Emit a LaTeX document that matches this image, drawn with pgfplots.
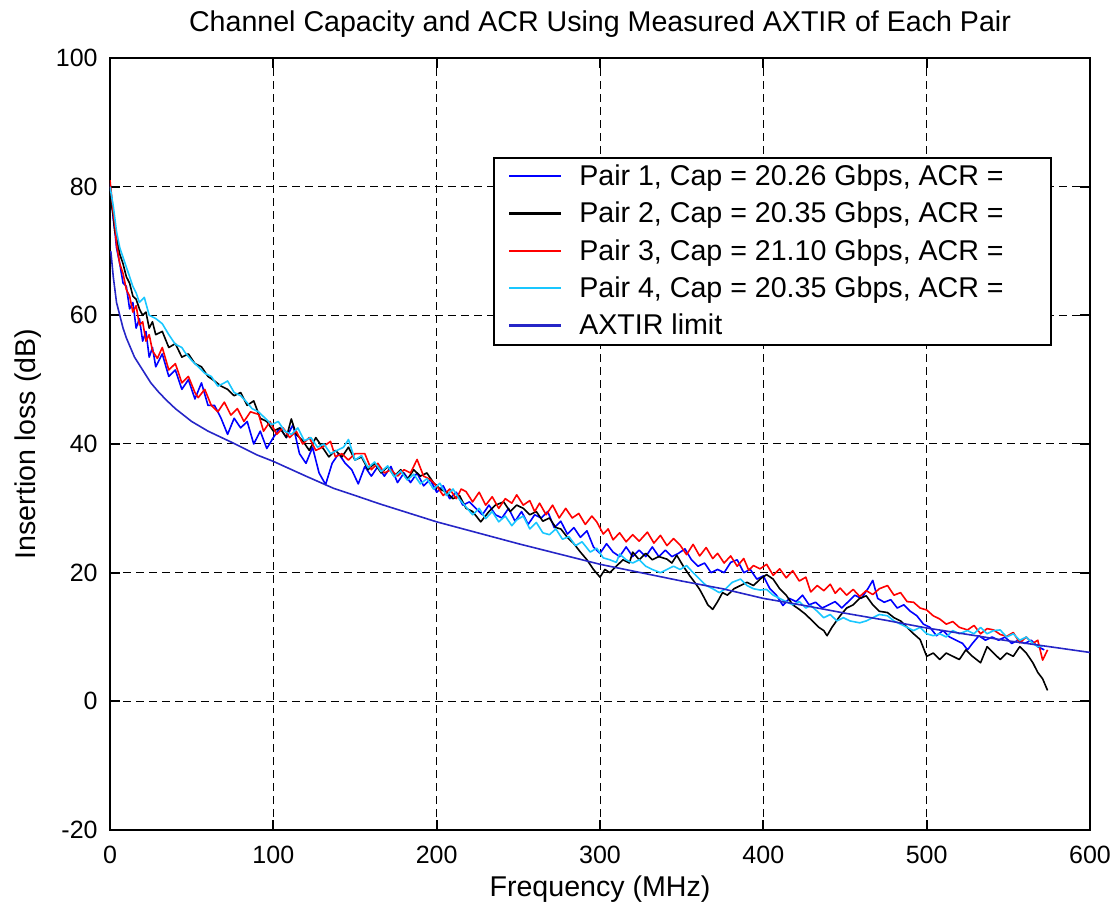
\documentclass[border=0pt]{standalone}
\usepackage{pgfplots}
\pgfplotsset{compat=1.18}
\usepackage{fontspec}
\setmainfont{Liberation Sans}
\definecolor{pairone}{rgb}{0,0,1}
\definecolor{pairtwo}{rgb}{0,0,0}
\definecolor{pairthree}{rgb}{1,0,0}
\definecolor{pairfour}{rgb}{0.1,0.78,1}
\definecolor{limitblue}{rgb}{0.15,0.15,0.78}
\begin{document}
\begin{tikzpicture}
\begin{axis}[
  width=490pt, height=386pt, scale only axis,
  xmin=0, xmax=600, ymin=-20, ymax=100,
  xtick={0,100,...,600}, ytick={-20,0,...,100},
  grid=major,
  major grid style={black, line width=0.5pt, dash pattern=on 4pt off 2.5pt},
  axis line style={line width=0.85pt},
  tick style={black, line width=0.85pt}, major tick length=5pt,
  tick align=inside,
  /pgf/number format/assume math mode=true,
  tick label style={font=\fontsize{12.5}{14}\selectfont},
  xticklabel style={anchor=base, yshift=-16.5pt},
  yticklabel style={anchor=east, inner sep=0pt, xshift=-6pt},
  every axis title/.style={at={(0.5,1.0337)}, anchor=base,
    font=\fontsize{14.3}{16}\selectfont},
  every axis x label/.style={at={(rel axis cs:0.5,-0.0855)}, anchor=base,
    font=\fontsize{14.3}{16}\selectfont},
  every axis y label/.style={at={(rel axis cs:-0.0832,0.5)}, rotate=90,
    anchor=center, font=\fontsize{14.3}{16}\selectfont},
  title={Channel Capacity and ACR Using Measured AXTIR of Each Pair},
  xlabel={Frequency (MHz)},
  ylabel={Insertion loss (dB)},
  legend cell align=left,
  legend style={at={(axis cs:234.5,84.6)}, anchor=north west,
    draw=black, line width=0.85pt, font=\fontsize{14.3}{16}\selectfont,
    nodes={inner sep=1.5pt}, row sep=3.8pt, column sep=7pt,
    inner xsep=7pt, inner ysep=2pt},
  legend image code/.code={\draw[#1, line width=1.2pt] (0pt,0.3pt) -- (26pt,0.3pt);},
  every axis plot/.append style={line width=0.8pt, line join=round},
]
% Pair 1
\addplot[color=pairone] coordinates {
(0,80.5)(1,78)(2,75)(3,73)(4,70.5)(6,68)(8,65)(10,64.5)(12,61)(14,62)(16,58)(18,59.5)
(20,56)(22,57.5)(24,53.5)(26,55)(28,52)(32,54)(36,50.5)(40,51.5)(44,48.5)(48,50)
(52,47)(56,49.5)(60,46)(64,46)(68,44)(72,41.5)(76,44)(80,42.5)(84,43.5)(88,40)
(92,42)(96,39.3)(100,41)(104,42.5)(108,41)(112,43)(116,38.5)(120,37)(124,39.5)
(128,35.5)(132,33.7)(136,37)(140,38.5)(144,37)(148,36)(152,33.8)(156,36.5)(160,35)
(164,36.5)(168,35)(172,36.5)(176,34)(180,35.5)(184,34)(188,35.5)(192,33.5)(196,34.5)
(200,32.5)(204,33.5)(208,31.5)(212,32.5)(216,30.5)(220,31)(224,30)(228,29)(232,30.5)
(236,29)(240,28.5)(244,30)(248,28)(252,29.5)(256,27.5)(260,29)(264,28.5)(268,29.5)
(272,27)(276,28)(280,26)(284,27)(288,25.5)(292,26.5)(296,24)(300,23)(304,24.5)
(308,23.2)(312,22.5)(316,24)(320,22.5)(324,23.5)(328,22.5)(332,24)(336,22.5)(340,23.5)
(344,22.5)(348,23)(352,23.7)(356,22)(360,21)(364,21.5)(368,20)(372,20.5)(376,20)
(380,21.6)(384,22)(388,20)(392,20.5)(396,19)(400,19.5)(404,17.5)(408,16.5)(412,14.9)
(416,16)(420,15.5)(424,16.5)(428,15)(432,15.4)(436,14.5)(440,15)(444,15.5)(448,14.5)
(452,15.5)(456,16.5)(460,16)(464,17.5)(467,18.8)(470,16)(474,15.4)(478,15.8)(482,14.5)
(486,15)(490,14)(494,13.3)(498,12)(502,11.5)(506,10.2)(510,11)(514,10)(518,9.5)
(522,9)(525,8)(528,9)(532,10.2)(536,9.5)(540,10)(544,9.5)(548,10)(552,9)(556,9.5)
(560,9)(564,9.5)(568,8.5)(572,8)
};
\addlegendentry{Pair 1, Cap = 20.26 Gbps, ACR =\hspace*{15pt}}
% Pair 2
\addplot[color=pairtwo] coordinates {
(0,80)(1,77)(2,75.5)(3,73)(4,72)(6,69.5)(8,68)(10,66)(12,65)(14,63)(16,62.5)(18,61)
(20,60)(22,60.5)(24,58)(26,59)(28,57)(32,57.5)(36,55)(40,55.6)(44,53.5)(48,54)
(52,52.5)(56,52)(60,50.5)(64,49.8)(68,49)(72,48.5)(76,47.5)(80,48)(84,46)(88,46.7)
(92,44)(96,43.5)(100,42)(104,42.5)(108,41)(111,43.9)(114,41.5)(118,40.5)(122,39)
(126,41)(130,39.5)(134,38)(138,39)(142,38)(146,39.5)(150,37.5)(154,38)(158,36)
(162,37)(166,35.5)(170,36.5)(174,35)(178,36)(182,34.5)(186,36)(190,35)(194,35.5)
(198,34)(202,33)(206,32.5)(210,31.5)(214,32)(218,30)(222,29.5)(227,27.9)(232,29.5)
(236,30.5)(241,31)(245,29.5)(249,30.5)(253,30)(257,29)(261,29.5)(265,28)(269,28.5)
(273,27)(276,26.8)(280,25.5)(284,24.5)(288,23.2)(292,22)(296,20.5)(300,19.3)(303,20.5)
(306,20)(310,21)(314,22)(318,21.5)(320,23.2)(324,22)(328,23)(332,22)(336,22.5)
(341,22.1)(344,21.5)(347,22.7)(351,21)(355,19.5)(358,18.5)(361,17.4)(364,16)(366,15)
(369,14.3)(372,15.5)(375,16.9)(378,16.5)(382,17.5)(386,18)(390,18.5)(394,18)(398,19)
(402,19.7)(406,19)(410,17.5)(414,16.5)(418,15)(422,14.3)(426,13.5)(430,12.5)(434,11.5)
(437,11)(439,10.2)(442,11.5)(447,13.3)(451,14.5)(455,15)(459,16)(463,16.4)(467,15)
(471,14)(476,13.8)(480,13)(484,12.5)(488,11.5)(492,10.5)(496,9.6)(500,7)(504,7.5)
(508,6.5)(512,7.5)(516,7)(520,6.5)(524,8)(528,7)(533,6)(537,8.5)(541,7.5)(545,6.5)
(549,7.5)(553,7)(557,8.5)(561,7.5)(565,6)(568,4.5)(571,3.5)(574,1.7)
};
\addlegendentry{Pair 2, Cap = 20.35 Gbps, ACR =}
% Pair 3
\addplot[color=pairthree] coordinates {
(0,81)(1,78.5)(2,76)(3,74)(4,71)(6,68)(8,66.5)(10,64)(12,63)(14,60.5)(16,61.5)
(18,58.5)(20,59)(22,56)(24,57)(26,54.5)(29,53.3)(32,55)(36,51.5)(40,52.5)(44,49.5)
(48,50.5)(52,48)(54,47.2)(58,48.5)(62,46)(66,45)(70,46.5)(74,44.5)(78,45.5)(82,43.5)
(86,45)(91,44.6)(94,42)(98,43.5)(102,41.5)(106,42.5)(110,41)(114,42)(118,40)(122,41)
(126,39)(130,39.5)(135,40.4)(138,38)(142,38.5)(146,37.5)(150,38.5)(156,38.5)(160,36)
(164,37)(168,35.5)(172,36)(176,35)(180,36)(184,35.5)(188,37.6)(192,35)(196,34.5)
(200,33.5)(204,32)(208,33)(212,31.5)(215,33)(218,32.6)(222,31)(226,32.5)(230,30.5)
(234,31.8)(238,30)(242,31.5)(246,30.8)(249,32.1)(253,30.5)(257,31.2)(260,29.5)
(263,30.8)(267,29)(271,30.5)(275,28.5)(279,30)(283,28.5)(287,29.2)(291,27.5)(295,28.8)
(298,27.9)(302,26)(305,26.8)(308,25.1)(312,26.2)(316,24.8)(320,25.9)(324,24.9)
(329,26.3)(333,24.6)(337,25.8)(341,24.2)(345,25.3)(349,24.3)(353,22.8)(357,24.4)
(361,22.6)(365,23.9)(369,22.2)(372,23)(376,21.5)(380,22.6)(384,21)(388,22.2)(391,20.4)
(394,21.1)(398,20.6)(402,21.3)(406,19.6)(410,20.6)(414,19.2)(418,20.3)(422,18.7)
(426,19.3)(429,17)(433,18)(437,17.2)(441,18.2)(444,16.8)(447,17.6)(451,16.5)(455,17.4)
(459,16.3)(463,17.2)(467,16.6)(471,17.5)(476,18)(480,16.5)(484,16.9)(488,15.5)
(492,15.4)(496,14.5)(500,14.2)(504,13.3)(508,12.8)(512,12)(516,12.4)(520,11.5)
(525,11.1)(529,11.8)(533,10.5)(537,11.3)(541,11.1)(545,10.4)(549,10.1)(553,10.7)
(557,9.1)(561,10)(565,9)(568,9.5)(571,6.4)(574,8)
};
\addlegendentry{Pair 3, Cap = 21.10 Gbps, ACR =}
% Pair 4
\addplot[color=pairfour] coordinates {
(0,80)(1,78.5)(2,77)(3,75)(4,73)(6,70.5)(8,69)(10,67.5)(12,66)(14,64.5)(16,63.5)
(18,62)(21,62.8)(24,60)(28,59.5)(32,58.7)(36,57)(40,55.5)(44,55)(46,54.2)(50,53)
(54,52)(58,51)(62,50.5)(66,49)(70,49.5)(72,49.8)(76,48)(80,47.5)(83,46.7)(87,45.5)
(91,45)(95,44)(99,43)(103,43.5)(107,42)(111,41.5)(115,42.5)(119,40.5)(123,41)
(127,39.5)(131,40)(135,38.5)(139,39)(143,39.5)(146,40.7)(150,37.5)(154,38.2)(158,36.3)
(162,37.2)(166,35.7)(170,36.6)(174,34.9)(178,35.8)(182,34.4)(186,35.3)(190,33.8)
(194,34.6)(198,33)(202,33.9)(206,32)(210,33)(214,31.4)(218,30.2)(222,29)(226,30)
(230,28.4)(234,29.5)(238,27.9)(242,28.8)(246,27.3)(249,28.2)(253,28.8)(257,26.8)
(261,27.8)(265,26.2)(269,25.9)(273,26.8)(277,25.2)(281,25.6)(285,24.2)(289,24.8)
(294,23.2)(298,23.8)(302,22.3)(306,22)(310,21.6)(312,22.9)(316,22)(320,21.5)(324,22)
(328,21)(332,20.5)(337,20)(341,20.5)(345,21)(349,20.5)(353,21.1)(357,20)(361,19)
(365,18)(369,17.5)(373,16.9)(377,17.5)(381,18.5)(386,19)(390,18)(394,17.5)(398,17.3)
(402,17.4)(406,16.5)(410,16)(414,15.5)(418,15)(422,15.5)(426,14.5)(429,14.9)(433,14)
(437,13)(441,13.5)(445,12.5)(449,13)(453,12.5)(459,12.2)(463,12.5)(467,13)(471,13.5)
(476,13.3)(480,12.5)(484,12)(488,11.5)(492,11)(496,11.5)(500,10.5)(504,10.2)(508,10.5)
(512,10)(516,11)(520,10.5)(525,11)(529,10.5)(533,11.5)(537,10.5)(541,11)(545,11.1)
(549,10)(553,10.5)(557,9.5)(561,10)(565,9)(568,8.5)(571,8.6)
};
\addlegendentry{Pair 4, Cap = 20.35 Gbps, ACR =}
% AXTIR limit
\addplot[color=limitblue] coordinates {
(0.5,70)(2,66)(4,62)(6,60)(8,58)(10,56.5)(15,53.5)(20,51.5)(25,49.5)(30,48)(35,46.7)
(40,45.5)(50,43.5)(60,42)(75,40.2)(90,38.3)(100,37.3)(120,35)(137,33.1)(150,32)
(165,30.7)(180,29.5)(200,27.9)(225,26.2)(250,24.5)(275,22.9)(300,21.3)(325,20)
(350,18.7)(375,17.5)(400,16)(425,14.9)(450,13.7)(475,12.6)(500,11.4)(525,10.4)
(550,9.4)(575,8.5)(600,7.6)
};
\addlegendentry{AXTIR limit}
\coordinate (sw) at (rel axis cs:0,0);
\coordinate (ne) at (rel axis cs:1,1);
\end{axis}
\pgfresetboundingbox
\path ([shift={(-55pt,-40pt)}]sw) rectangle ([shift={(13.5pt,29pt)}]ne);
\end{tikzpicture}
\end{document}
